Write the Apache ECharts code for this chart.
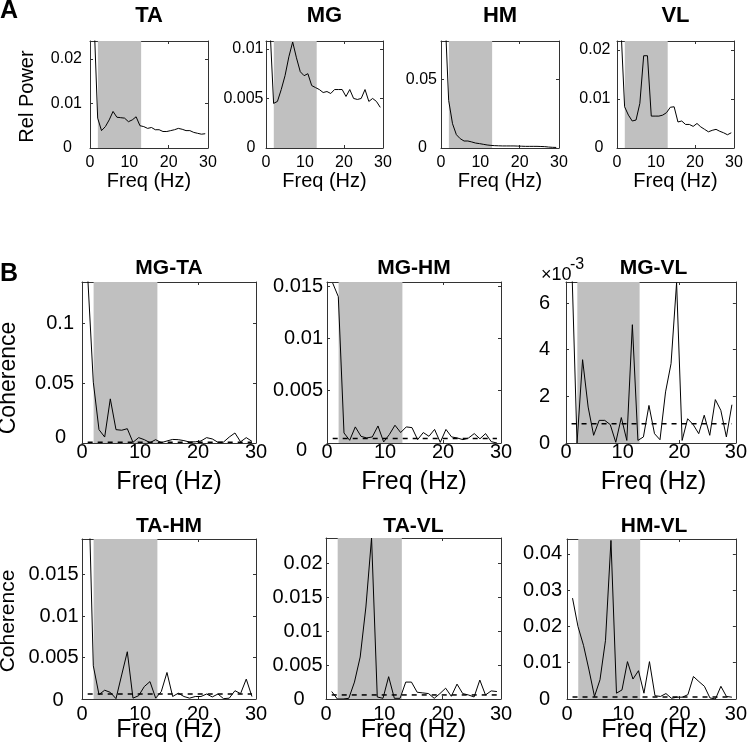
<!DOCTYPE html>
<html><head><meta charset="utf-8">
<script src="https://cdn.jsdelivr.net/npm/echarts@6/dist/echarts.min.js"></script>
<style>html,body{margin:0;padding:0;background:#fff}#c{width:750px;height:753px}</style>
</head><body><div id="c"></div>
<script>
// ---------------- data ----------------
const freqs = [0.98,1.95,2.93,3.91,4.88,5.86,6.84,7.81,8.79,9.77,10.74,11.72,12.70,13.67,14.65,15.63,16.60,17.58,18.55,19.53,20.51,21.48,22.46,23.44,24.41,25.39,26.37,27.34,28.32,29.30];
const bandRange = [2, 13];

// Panel A: relative power
const taPower = [0.030,0.0067,0.0039,0.0048,0.0063,0.0082,0.0069,0.0068,0.0067,0.0059,0.0063,0.0070,0.0050,0.0048,0.0044,0.0046,0.0041,0.0041,0.0037,0.0037,0.0039,0.0041,0.0044,0.0042,0.0039,0.0039,0.0035,0.0033,0.0031,0.0032];
const mgPower = [0.0125,0.0045,0.0047,0.0059,0.0073,0.0092,0.0107,0.0091,0.0077,0.0073,0.0075,0.0063,0.0061,0.0059,0.0056,0.0057,0.0055,0.0059,0.0059,0.0059,0.0052,0.0059,0.0050,0.0049,0.0050,0.0059,0.0047,0.0050,0.0047,0.0041];
const hmPower = [0.100,0.0347,0.0177,0.0097,0.0068,0.0051,0.0051,0.0044,0.0036,0.0032,0.0027,0.0022,0.0019,0.0017,0.0016,0.0015,0.0015,0.0015,0.0015,0.0014,0.0013,0.0012,0.0012,0.0012,0.0012,0.0011,0.0010,0.0007,0.0005,0.0004];
const vlPower = [0.025,0.0084,0.0067,0.0055,0.0057,0.0091,0.0188,0.0188,0.0065,0.0065,0.0065,0.0067,0.0072,0.0083,0.0084,0.0053,0.0055,0.0048,0.0048,0.0044,0.0050,0.0043,0.0038,0.0033,0.0036,0.0038,0.0034,0.0031,0.0027,0.0031];

// Panel B: coherence
const mgTA = [0.14,0.051,0.0112,0.005,0.037,0.0112,0.0107,0.012,0.0006,0.0045,0.0028,0.0003,0.0028,0.0003,0.0017,0.003,0.0028,0.002,0.0008,0.001,0.0017,0.0045,0.0034,0.0006,0.0008,0.005,0.0084,0.001,0.0045,0.0014];
const mgHM = [0.0153,0.0140,0.00096,0.00026,0.00154,0.00064,0.00048,0.00058,0.00163,0.0001,0.0008,0.0017,0.001,0.00154,0.00147,0.00032,0.001,0.00064,0.0013,0.00006,0.0013,0.00058,0.00048,0.00032,0.00048,0.0009,0.0004,0.0009,0.00013,0];
const mgVLx1e3 = [8.0,0,3.57,1.54,0.33,0.97,0.97,0.79,0.03,1.09,0.11,5.07,0.11,0.26,1.61,0.40,0.14,2.19,3.40,6.87,0.11,1.04,0.79,0.40,1.19,0.33,1.86,1.40,0.26,1.64];
const taHM = [0.03,0.004,0.00053,0.00106,0.0008,0.00004,0.0029,0.0057,0.0001,0.0004,0.0015,0.0021,0.0001,0.0009,0.0032,0.0003,0.0007,0.0003,0.0001,0.0003,0.0003,0.0006,0.00025,0.0006,0.00004,0.0001,0.001,0.00065,0.0024,0.0003];
const taVL = [0.0011,0,0,0.0001,0.0025,0.0062,0.0136,0.0238,0.0003,0.0001,0.0033,0.0001,0.0001,0.0025,0.0025,0.001,0.0009,0.0008,0.0001,0.0008,0.0016,0.0004,0.0022,0.0008,0.0006,0.0003,0.0028,0.0006,0.0012,0.0011];
const hmVL = [0.0278,0.020,0.0148,0.008,0.0007,0.0053,0.0162,0.0437,0.0016,0.0025,0.0103,0.0055,0.0078,0.0016,0.0103,0.0009,0.0007,0.0015,0.0002,0.0005,0.0005,0.0012,0.0062,0.0048,0.0035,0.0003,0,0.0035,0.0007,0.0005];

const panelTitles = ['TA','MG','HM','VL','MG-TA','MG-HM','MG-VL','TA-HM','TA-VL','HM-VL'];
const panelValues = [taPower,mgPower,hmPower,vlPower,mgTA,mgHM,mgVLx1e3,taHM,taVL,hmVL];
const yMax = [0.024,0.0108,0.078,0.0218,0.135,0.0154,6.9,0.0193,0.0238,0.0441];
const yInterval = [0.01,0.005,0.05,0.01,0.05,0.005,2,0.005,0.005,0.01];
const thresholds = [null,null,null,null,0.0006,0.00042,0.83,0.0006,0.0006,0.00055];

// ---------------- layout / style ----------------
const FONT = "'Liberation Sans', Arial, Helvetica, sans-serif";
const AX = '#333';
const BAND = '#c0c0c0';
const layout = [
  {l:90, t:41, w:118,h:107, fs:16, xm:7,  ym:8,   zs:10, zdy:0},
  {l:266,t:41, w:117,h:107, fs:16, xm:7,  ym:2.5, zs:8,  zdy:0},
  {l:441,t:41, w:118,h:107, fs:16, xm:7,  ym:4,   zs:10, zdy:0},
  {l:617,t:41, w:117,h:107, fs:16, xm:7,  ym:6.5, zs:7,  zdy:0},
  {l:82, t:282,w:174,h:161, fs:20, xm:-1, ym:8,   zs:8,  zdy:-6},
  {l:327,t:282,w:174,h:161, fs:20, xm:-1, ym:4,   zs:16, zdy:7},
  {l:566,t:282,w:175,h:161, fs:20, xm:-1, ym:16,  zs:0,  zdy:0},
  {l:82, t:539,w:174,h:160, fs:20, xm:5,  ym:3.5, zs:15, zdy:1},
  {l:326,t:538,w:175,h:161, fs:20, xm:5,  ym:3.5, zs:18, zdy:0},
  {l:567,t:539,w:174,h:160, fs:20, xm:5,  ym:5,   zs:12, zdy:0}
];
const rowStyle = [
  {titleY:16,  titleFs:22, nameY:181,   nameFs:20},
  {titleY:268, titleFs:21, nameY:482.3, nameFs:25},
  {titleY:526, titleFs:21, nameY:730.3, nameFs:25}
];
const rowOf = i => (i < 4 ? 0 : i < 7 ? 1 : 2);

function fmt(v){ return String(parseFloat(v.toPrecision(6))); }

function txt(text, x, y, size, opts){
  opts = opts || {};
  return {type:'text', x, y, rotation:opts.rot || 0,
    style:{text, fontSize:size, fontFamily:FONT, fontWeight:opts.bold ? 'bold' : 'normal', fill:'#000',
      align:opts.align || 'center', verticalAlign:'middle',
      textAlign:opts.align || 'center', textVerticalAlign:'middle'}};
}

const grid = [], xAxis = [], yAxis = [], series = [], graphic = [];
layout.forEach((p, i) => {
  grid.push({left:p.l, top:p.t, width:p.w, height:p.h});
  const line = {show:true, onZero:false, lineStyle:{color:AX, width:1}};
  const tick = {show:true, inside:true, length:3, lineStyle:{color:AX, width:1}};
  xAxis.push({gridIndex:i, type:'value', min:0, max:30, interval:10, position:'bottom',
    axisLine:line, axisTick:tick, splitLine:{show:false},
    axisLabel:{fontSize:p.fs, fontFamily:FONT, color:'#000', margin:p.xm}});
  xAxis.push({gridIndex:i, type:'value', min:0, max:30, interval:10, position:'top',
    axisLine:line, axisTick:tick, splitLine:{show:false}, axisLabel:{show:false}});
  const pt = p.zdy > 0 ? 2*p.zdy : 0, pb = p.zdy < 0 ? -2*p.zdy : 0;
  yAxis.push({gridIndex:i, type:'value', min:0, max:yMax[i], interval:yInterval[i], position:'left',
    axisLine:line, axisTick:tick, splitLine:{show:false},
    axisLabel:{fontSize:p.fs, fontFamily:FONT, color:'#000', margin:p.ym, showMaxLabel:false,
      formatter: v => v === 0 ? '{z|0}' : fmt(v),
      rich:{z:{fontSize:p.fs, fontFamily:FONT, color:'#000', padding:[pt, p.zs, pb, 0]}}}});
  yAxis.push({gridIndex:i, type:'value', min:0, max:yMax[i], interval:yInterval[i], position:'right',
    axisLine:line, axisTick:tick, splitLine:{show:false}, axisLabel:{show:false}});

  const xi = 2*i, yi = 2*i;
  series.push({type:'line', xAxisIndex:xi, yAxisIndex:yi, data:[], silent:true, z:1,
    markArea:{silent:true, itemStyle:{color:BAND}, data:[[{xAxis:bandRange[0]},{xAxis:bandRange[1]}]]}});
  series.push({type:'line', xAxisIndex:xi, yAxisIndex:yi, symbol:'none', clip:true, z:3,
    lineStyle:{color:'#000', width:1},
    data: freqs.map((f, k) => [f, panelValues[i][k]])});
  if (thresholds[i] !== null) {
    series.push({type:'line', xAxisIndex:xi, yAxisIndex:yi, symbol:'none', z:4,
      lineStyle:{color:'#000', width:1.5, type:[5,5]},
      data: [[freqs[0], thresholds[i]], [freqs[freqs.length-1], thresholds[i]]]});
  }
  const r = rowStyle[rowOf(i)];
  const cx = p.l + p.w/2;
  graphic.push(txt(panelTitles[i], cx, r.titleY, r.titleFs, {bold:true}));
  graphic.push(txt('Freq (Hz)', cx, r.nameY, r.nameFs));
});

graphic.push(txt('Rel Power', 27, 96.5, 20, {rot:Math.PI/2}));
graphic.push(txt('Coherence', 8.5, 378, 23, {rot:Math.PI/2}));
graphic.push(txt('Coherence', 8, 621, 21, {rot:Math.PI/2}));
graphic.push(txt('A', 0, 11.3, 25, {bold:true, align:'left'}));
graphic.push(txt('B', 0, 273.7, 25, {bold:true, align:'left'}));
graphic.push(txt('×10', 541, 275, 18, {align:'left'}));
graphic.push(txt('-3', 570, 264.3, 16, {align:'left'}));

const chart = echarts.init(document.getElementById('c'), null, {renderer:'canvas'});
chart.setOption({animation:false, backgroundColor:'#fff', grid, xAxis, yAxis, series, graphic});
</script></body></html>
